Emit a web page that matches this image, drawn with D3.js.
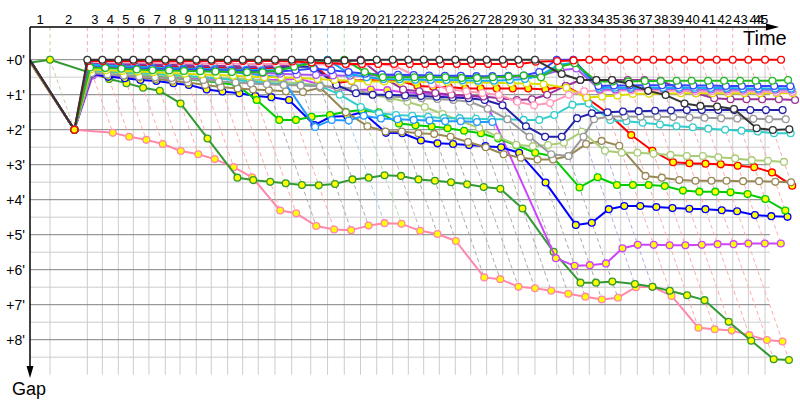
<!DOCTYPE html>
<html><head><meta charset="utf-8">
<script src="https://cdn.jsdelivr.net/npm/d3@7"></script>
<style>body{margin:0;background:#fff}svg{display:block;font-family:"Liberation Sans",Arial,sans-serif}</style>
</head><body><svg id="c" width="800" height="400"></svg>
<script>
// leader crossing time (minutes) at the end of each lap, lap 0 = start
const LAP_TIMES = [0,1.64,4.70,5.93,7.24,8.47,9.75,11.09,12.30,13.63,14.86,16.20,17.43,18.71,20.08,21.45,23.01,24.39,25.76,27.09,28.42,29.73,31.01,32.27,33.55,34.86,36.12,37.43,38.75,40.02,41.39,43.17,44.53,45.84,47.13,48.42,49.78,51.09,52.40,53.63,54.98,56.29,57.60,58.88,60.25,61.56];
// leader of each lap (index 0 = lap 1)
const LAP_LEADER = ["dkgreen","red","red","red","red","red","red","red","red","red","red","red","black","red","black","black","sky","green","purple","black","black","black","black","black","black","black","black","black","black","black","blue","blue","red","red","red","red","red","red","red","red","red","red","red","red","red"];
const GAP_TICKS = [0,1,2,3,4,5,6,7,8];

// gaps to the leader (minutes), per lap starting at lap 0
const gapsPinkY = [0.15,2.0,2.09,2.20,2.29,2.41,2.61,2.70,2.84,3.07,3.36,4.31,4.39,4.75,4.85,4.87,4.74,4.67,4.69,4.89,4.98,5.18,6.22,6.27,6.49,6.53,6.60,6.69,6.77,6.85,6.80,6.50,6.49,6.75,7.66,7.70,7.74,7.87,8.01,8.05];
const gapsDkGreen = [0.08,0,0.39,0.55,0.67,0.80,0.89,1.25,2.25,3.37,3.44,3.49,3.53,3.58,3.59,3.55,3.42,3.37,3.30,3.32,3.42,3.46,3.50,3.56,3.64,3.69,4.25,5.49,6.37,6.37,6.34,6.41,6.49,6.60,6.73,6.87,7.49,8.03,8.56,8.58];
const gapsPurpleY = [0.12,2.0,0.45,0.47,0.48,0.50,0.50,0.52,0.53,0.54,0.55,0.56,0.57,0.58,0.58,0.54,0.70,0.85,0.87,0.85,0.87,0.93,0.96,0.98,1.03,1.04,1.07,5.67,5.89,5.87,5.82,5.39,5.29,5.29,5.30,5.30,5.29,5.27,5.27,5.25,5.25,5.25];
const gapsBlueY = [0.10,2.0,0.40,0.49,0.53,0.58,0.61,0.67,0.72,0.85,0.91,0.96,1.04,1.07,1.15,1.87,1.63,1.61,1.50,2.09,2.10,2.31,2.39,2.41,2.44,2.47,2.50,2.66,3.51,4.72,4.66,4.27,4.18,4.18,4.21,4.24,4.26,4.27,4.30,4.33,4.44,4.47,4.49];
const gapsGreenY = [0.10,2.0,0.30,0.36,0.40,0.44,0.48,0.52,0.56,0.60,0.66,0.72,1.15,1.72,1.72,1.63,1.58,1.49,1.44,1.50,1.82,1.87,1.91,1.96,2.03,2.10,2.25,2.45,2.66,2.75,3.65,3.36,3.58,3.58,3.58,3.61,3.74,3.77,3.77,3.79,3.84,3.98,4.31];
const gapsRedY = [0.10,2.0,0.12,0.14,0.16,0.17,0.18,0.20,0.21,0.22,0.23,0.24,0.25,0.25,0.22,0.18,0.10,0.67,0.60,0.58,0.60,0.60,0.75,0.77,0.78,0.82,0.82,0.82,0.82,0.82,0.85,0.75,1.09,1.53,2.15,2.60,2.93,2.96,2.97,2.99,3.03,3.07,3.22,3.60];
const gapsOlive = [0.15,2.0,0.30,0.42,0.45,0.50,0.55,0.60,0.65,0.72,0.78,0.82,0.85,0.87,0.90,0.92,0.80,1.50,1.90,2.05,2.05,2.10,2.12,2.20,2.35,2.50,2.70,2.80,2.85,2.85,2.75,2.41,2.32,2.46,3.32,3.37,3.44,3.46,3.46,3.46,3.47,3.47,3.49,3.50];
const gapsLtGreen = [0.12,2.0,0.35,0.38,0.40,0.42,0.44,0.46,0.48,0.50,0.52,0.54,0.56,0.60,0.64,0.68,0.72,0.80,0.90,1.00,1.10,1.20,1.35,1.55,1.75,1.95,2.20,2.43,2.47,2.44,2.37,2.06,2.60,2.66,2.66,2.69,2.72,2.75,2.75,2.79,2.82,2.87,2.89,2.92];
const gapsCyan = [0.10,2.0,0.30,0.33,0.36,0.38,0.40,0.43,0.46,0.50,0.54,0.58,0.62,0.66,0.70,0.72,0.75,1.00,1.35,1.53,1.58,1.60,1.63,1.67,1.67,1.69,1.70,1.70,1.72,1.72,1.58,1.29,1.25,1.72,1.76,1.80,1.85,1.90,1.93,1.97,2.00,2.03,2.05,2.10,2.10];
const gapsLtBlue = [0.08,2.0,0.18,0.20,0.22,0.24,0.26,0.28,0.30,0.32,0.34,0.36,0.40,0.45,0.50,1.92,1.72,1.74,1.60,1.68,1.70,1.72,1.74,1.76,1.76,1.78,1.78];
const gapsGray = [0.14,2.0,0.38,0.42,0.45,0.48,0.50,0.52,0.55,0.58,0.62,0.65,0.68,0.70,0.72,0.74,0.76,0.78,0.82,1.00,1.05,1.08,1.10,1.12,1.15,1.20,1.40,1.70,2.20,2.70,2.75,2.20,1.70,1.62,1.62,1.63,1.63,1.64,1.65,1.66,1.67,1.68,1.69,1.70,1.70];
const gapsNavy = [0.03,2.0,0.10,0.11,0.12,0.13,0.14,0.15,0.16,0.17,0.18,0.19,0.20,0.20,0.20,0.20,0.20,0.72,0.96,1.00,1.00,1.02,1.04,1.06,1.08,1.10,1.15,1.30,1.90,2.20,2.20,1.67,1.53,1.50,1.48,1.47,1.46,1.45,1.44,1.44,1.44,1.44,1.44,1.44,1.44];
const gapsPurpleW = [0.11,2.0,0.10,0.11,0.12,0.13,0.14,0.15,0.16,0.17,0.18,0.19,0.20,0.20,0.18,0.15,0.10,0.06,0.05,0,0.50,0.85,0.90,0.95,1.00,1.02,1.05,1.10,1.15,1.13,1.00,0.75,0.58,0.58,0.58,0.58,0.58,0.60,0.82,0.96,1.10,1.13,1.13,1.13,1.13,1.15];
const gapsYellowW = [0.13,2.0,0.28,0.30,0.32,0.34,0.36,0.38,0.40,0.42,0.44,0.46,0.48,0.50,0.50,0.52,0.55,0.58,0.60,0.62,0.62,0.63,0.63,0.64,0.64,0.65,0.65,0.66,0.67,0.68,0.70,0.80,1.08,1.05,1.02,0.98,0.97,0.97,0.96,0.96,0.96,0.96,0.96,0.96,0.96,0.96];
const gapsPinkW = [0.09,2.0,0.06,0.07,0.08,0.08,0.09,0.09,0.10,0.10,0.11,0.11,0.12,0.12,0.12,0.13,0.13,0.14,0.15,0.15,0.12,0.18,0.44,0.70,0.85,0.90,0.95,1.00,1.20,1.30,1.24,1.00,0.90,0.88,0.88,0.88,0.88,0.89,0.89,0.90,0.90,0.90,0.91,0.91,0.92,0.92];
const gapsLavender = [0.06,2.0,0.16,0.18,0.20,0.22,0.24,0.26,0.28,0.30,0.32,0.34,0.36,0.38,0.40,0.42,0.44,0.45,0.46,0.45,0.45,0.46,0.47,0.48,0.48,0.49,0.50,0.50,0.50,0.48,0.45,0.30,0.25,0.85,0.85,0.84,0.84,0.84,0.84,0.85,0.85,0.85,0.86,0.86,0.86,0.86];
const gapsSky = [0.04,2.0,0.14,0.16,0.18,0.20,0.22,0.24,0.25,0.26,0.27,0.28,0.29,0.30,0.30,0.20,0.05,0,0.40,0.50,0.55,0.56,0.57,0.58,0.58,0.59,0.60,0.60,0.58,0.55,0.45,0.15,0.08,0.80,0.80,0.80,0.80,0.80,0.80,0.80,0.81,0.81,0.82,0.82,0.82,0.82];
const gapsBlueW = [0.05,2.0,0.20,0.22,0.24,0.25,0.26,0.27,0.28,0.29,0.30,0.31,0.32,0.33,0.34,0.30,0.25,0.30,0.35,0.40,0.42,0.43,0.44,0.45,0.46,0.46,0.47,0.47,0.46,0.45,0.35,0,0,0.75,0.74,0.74,0.73,0.73,0.73,0.74,0.74,0.75,0.75,0.75,0.75,0.76];
const gapsGreenW = [0.07,2.0,0.22,0.24,0.26,0.28,0.30,0.31,0.32,0.33,0.34,0.35,0.36,0.36,0.30,0.20,0.10,0.05,0,0.35,0.50,0.50,0.50,0.50,0.50,0.52,0.52,0.50,0.48,0.45,0.50,0.20,0.10,0.62,0.62,0.62,0.61,0.61,0.60,0.60,0.60,0.60,0.60,0.60,0.60,0.58];
const gapsRed = [0.05,2.0,0.04,0.04,0.04,0.04,0.04,0.04,0.04,0.04,0.04,0.04,0.04,0.04,0.04,0.05,0.08,0.10,0.12,0.12,0.12,0.12,0.12,0.12,0.12,0.12,0.12,0.12,0.12,0.12,0.06,0.04,0.02,0,0,0,0,0,0,0,0,0,0,0,0,0];
const gapsBlack = [0.02,2.0,0,0,0,0,0,0,0,0,0,0,0,0,0,0,0,0.02,0.02,0.02,0,0,0,0,0,0,0,0,0,0,0,0.41,0.58,0.58,0.58,0.69,0.89,1.01,1.25,1.32,1.34,1.41,1.96,2.01,1.99];

const SERIES = [
  {gaps: gapsPinkY, color: "#ff88aa", fill: "#ffff00"},
  {gaps: gapsDkGreen, color: "#339933", fill: "#ffff00"},
  {gaps: gapsPurpleY, color: "#cc44ff", fill: "#ffff00"},
  {gaps: gapsBlueY, color: "#0000ff", fill: "#ffff00"},
  {gaps: gapsGreenY, color: "#00cc00", fill: "#ffff00"},
  {gaps: gapsRedY, color: "#ff0000", fill: "#ffff00"},
  {gaps: gapsOlive, color: "#998855", fill: "#ffffff"},
  {gaps: gapsLtGreen, color: "#aacc77", fill: "#ffffff"},
  {gaps: gapsCyan, color: "#33cccc", fill: "#ffffff"},
  {gaps: gapsLtBlue, color: "#2299ff", fill: "#ffffff"},
  {gaps: gapsGray, color: "#999999", fill: "#ffffff"},
  {gaps: gapsNavy, color: "#2222aa", fill: "#ffffff"},
  {gaps: gapsPurpleW, color: "#993399", fill: "#ffffff"},
  {gaps: gapsYellowW, color: "#dddd00", fill: "#ffffff"},
  {gaps: gapsPinkW, color: "#ff99bb", fill: "#ffffff"},
  {gaps: gapsLavender, color: "#aa55ee", fill: "#ffffff"},
  {gaps: gapsSky, color: "#11aaee", fill: "#ffffff"},
  {gaps: gapsBlueW, color: "#3344ff", fill: "#ffffff"},
  {gaps: gapsGreenW, color: "#22bb22", fill: "#ffffff"},
  {gaps: gapsRed, color: "#ff0000", fill: "#ffffff"},
  {gaps: gapsBlack, color: "#333333", fill: "#ffffff"}
];
const DASH_COLOR = {red:"#ffaaaa", black:"#aaaaaa", dkgreen:"#ccccaa", sky:"#99ccee", green:"#aaddaa", purple:"#ccaacc", blue:"#aaaaee"};

const svg = d3.select("#c");
const X0 = 30, X1 = 770, AXIS_Y = 27;
const x = d3.scaleLinear().domain([0, (X1 - X0) / 12.2]).range([X0, X1]);
const y = d3.scaleLinear().domain([0, 9]).range([59.7, 374.7]);

// horizontal grid
const gGrid = svg.append("g");
d3.range(0.5, 9, 0.5).filter(v => v % 1 !== 0).forEach(v => {
  gGrid.append("line").attr("x1", X0).attr("x2", X1).attr("y1", y(v)).attr("y2", y(v))
    .attr("stroke", "#cccccc").attr("stroke-width", 1);
});
// vertical lap grid
LAP_TIMES.forEach((t, k) => {
  if (k === 0 || x(t) > X1) return;
  gGrid.append("line").attr("x1", x(t)).attr("x2", x(t)).attr("y1", y(0)).attr("y2", y(9))
    .attr("stroke", "#cccccc").attr("stroke-width", 1);
});
GAP_TICKS.forEach(v => {
  gGrid.append("line").attr("x1", X0).attr("x2", X1).attr("y1", y(v)).attr("y2", y(v))
    .attr("stroke", "#808080").attr("stroke-width", 1);
});

// lap leader dashed marks and "lapped" diagonals
const gDiag = svg.append("g").attr("fill", "none").attr("stroke-width", 1).attr("stroke-dasharray", "4,3");
LAP_TIMES.forEach((t, k) => {
  if (k === 0) return;
  const col = DASH_COLOR[LAP_LEADER[k - 1]];
  const maxGap = d3.max(SERIES.filter(s => s.gaps.length > k), s => s.gaps[k]);
  if (x(t) <= X1) {
    gDiag.append("line").attr("x1", x(t)).attr("x2", x(t)).attr("y1", AXIS_Y).attr("y2", y(0)).attr("stroke", col);
  }
  gDiag.append("line").attr("x1", x(t)).attr("y1", y(0))
    .attr("x2", x(t + maxGap)).attr("y2", y(maxGap)).attr("stroke", col);
});

// series (start point drawn without marker; lap-1 markers drawn on a top layer)
const line = d3.line().x(d => x(d.t)).y(d => y(d.g));
const lap1 = [];
SERIES.forEach(s => {
  const pts = s.gaps.map((g, i) => ({t: LAP_TIMES[i] + g, g, i}));
  const g = svg.append("g");
  g.append("path").datum(pts).attr("d", line).attr("fill", "none")
    .attr("stroke", s.color).attr("stroke-width", 2).attr("stroke-linejoin", "round");
  g.selectAll("circle").data(pts.filter(d => d.i > 1)).join("circle")
    .attr("cx", d => x(d.t)).attr("cy", d => y(d.g)).attr("r", 3.4)
    .attr("fill", s.fill).attr("stroke", s.color).attr("stroke-width", 1.3);
  lap1.push({p: pts[1], s});
});
lap1.sort((a, b) => (a.s.fill === "#ffff00") - (b.s.fill === "#ffff00"));
svg.append("g").selectAll("circle").data(lap1).join("circle")
  .attr("cx", d => x(d.p.t)).attr("cy", d => y(d.p.g)).attr("r", 3.4)
  .attr("fill", d => d.s.fill).attr("stroke", d => d.s.color).attr("stroke-width", 1.3);

// axes
const gAx = svg.append("g");
gAx.append("line").attr("x1", X0).attr("x2", 768).attr("y1", AXIS_Y).attr("y2", AXIS_Y).attr("stroke", "#000").attr("stroke-width", 1.5);
gAx.append("path").attr("d", `M766,${AXIS_Y-3.5}L779,${AXIS_Y}L766,${AXIS_Y+3.5}Z`).attr("fill", "#000");
gAx.append("line").attr("x1", X0).attr("x2", X0).attr("y1", AXIS_Y).attr("y2", 368).attr("stroke", "#000").attr("stroke-width", 1.5);
gAx.append("path").attr("d", `M${X0-3.5},366L${X0},378L${X0+3.5},366Z`).attr("fill", "#000");

const yAxis = d3.axisLeft(y).tickValues(GAP_TICKS).tickFormat(d => `+${d}'`).tickSize(0).tickPadding(5);
const gY = svg.append("g").attr("transform", `translate(${X0},0)`).call(yAxis);
gY.select(".domain").remove();
gY.selectAll("text").attr("font-size", 14).attr("font-family", '"Liberation Sans",Arial,sans-serif').attr("fill", "#000");

// lap labels between consecutive lap lines
const gLab = svg.append("g").attr("font-size", 13).attr("text-anchor", "middle").attr("fill", "#000");
LAP_TIMES.forEach((t, k) => {
  if (k === 0) return;
  const mx = Math.min((x(LAP_TIMES[k - 1]) + x(t)) / 2, 761);
  gLab.append("text").attr("x", mx).attr("y", 24).text(k);
});
svg.append("text").attr("x", 743).attr("y", 45).attr("font-size", 20).text("Time");
svg.append("text").attr("x", 12).attr("y", 395).attr("font-size", 18).text("Gap");
</script></body></html>
